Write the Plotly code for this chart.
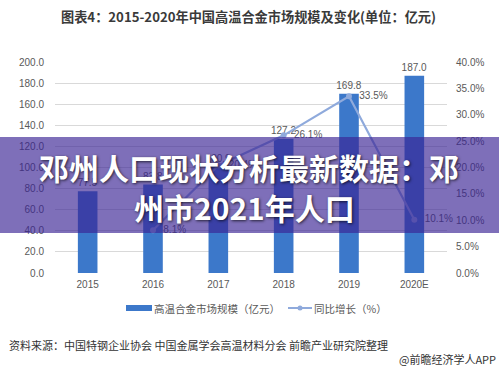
import plotly.graph_objects as go

years = ["2015", "2016", "2017", "2018", "2019", "2020E"]
market_size = [77.5, 83.8, 100.9, 127.2, 169.8, 187.0]
growth_years = ["2016", "2017", "2018", "2019", "2020E"]
growth_pct = [8.1, 20.4, 26.1, 33.5, 10.1]

title_text = "图表4：2015-2020年中国高温合金市场规模及变化(单位：亿元)"
banner_line1 = "邓州人口现状分析最新数据：邓"
banner_line2 = "州市2021年人口"
source_text = "资料来源：中国特钢企业协会 中国金属学会高温材料分会 前瞻产业研究院整理"
credit_text = "@前瞻经济学人APP"
bar_name = "高温合金市场规模（亿元）"
line_name = "同比增长（%）"

CJK = "Noto Sans CJK SC"
gray = "#595959"
bar_color = "#3C78CA"
line_color = "#8FAADC"

# pixel -> paper helpers (plot area: x 55..447, y 62..273)
def px(x):
    return (x - 55) / 392

def py(y):
    return (273 - y) / 211

fig = go.Figure()
fig.add_trace(go.Bar(
    x=years, y=market_size, name=bar_name,
    marker=dict(color=bar_color, line=dict(width=0)), width=0.3,
    text=[f"{v:.1f}" for v in market_size], textposition="outside",
    textfont=dict(size=10, color=gray, family="Liberation Sans"),
    constraintext="none", cliponaxis=False,
))
fig.add_trace(go.Scatter(
    x=growth_years, y=[g / 100 for g in growth_pct], name=line_name,
    yaxis="y2", mode="lines+markers+text",
    line=dict(color=line_color, width=2.2),
    marker=dict(size=6, color=line_color),
    text=[f"  {g:.1f}%" for g in growth_pct], textposition="middle right",
    textfont=dict(size=10, color=gray, family="Liberation Sans"),
    cliponaxis=False,
))

fig.update_layout(
    width=499, height=371,
    margin=dict(l=55, r=52, t=62, b=98),
    paper_bgcolor="white", plot_bgcolor="white",
    font=dict(family="Liberation Sans", size=10, color=gray),
    showlegend=False,
    bargap=0.7,
    xaxis=dict(type="category", showgrid=False, showline=False, zeroline=False,
               ticks="", tickfont=dict(size=10, color=gray), ticklabelstandoff=4),
    yaxis=dict(range=[0, 200], dtick=20, tickformat=".1f", showgrid=True,
               gridcolor="#D9D9D9", gridwidth=1, zeroline=False, showline=False,
               ticks="", tickfont=dict(size=10, color=gray), ticklabelstandoff=10),
    yaxis2=dict(range=[0, 0.4], dtick=0.05, tickformat=".1%", overlaying="y",
                side="right", showgrid=False, zeroline=False, showline=False,
                ticks="", tickfont=dict(size=10, color=gray), ticklabelstandoff=8),
)

# manual legend
fig.add_shape(type="rect", xref="paper", yref="paper",
              x0=px(126), x1=px(152), y0=py(311), y1=py(305),
              fillcolor=bar_color, line=dict(width=0))
fig.add_annotation(text=bar_name, xref="paper", yref="paper",
                   x=px(152), y=py(308), xanchor="left", yanchor="middle",
                   showarrow=False, font=dict(family=CJK, size=10.5, color=gray))
fig.add_shape(type="line", xref="paper", yref="paper",
              x0=px(288), x1=px(312), y0=py(308), y1=py(308),
              line=dict(color=line_color, width=2))
fig.add_shape(type="circle", xref="paper", yref="paper",
              x0=px(297.5), x1=px(302.5), y0=py(310.5), y1=py(305.5),
              fillcolor=line_color, line=dict(width=0))
fig.add_annotation(text=line_name, xref="paper", yref="paper",
                   x=px(312), y=py(308), xanchor="left", yanchor="middle",
                   showarrow=False, font=dict(family=CJK, size=10.5, color=gray))

fig.add_annotation(text=f"<b>{title_text}</b>", xref="paper", yref="paper",
                   x=px(248), y=py(17), xanchor="center", yanchor="middle",
                   showarrow=False, font=dict(family=CJK, size=13.2, color="#3a3a3a"))

fig.add_shape(type="rect", xref="paper", yref="paper",
              x0=-0.2, x1=1.2, y0=py(233), y1=py(137),
              fillcolor="rgba(57,34,148,0.65)", line=dict(width=0), layer="above")

shadow = "1px 1px 3px rgba(0,0,0,0.7)"
fig.add_annotation(text=f"<b>{banner_line1}</b>", xref="paper", yref="paper",
                   x=px(249), y=py(167), xanchor="center", yanchor="middle",
                   showarrow=False,
                   font=dict(family=CJK, size=30, color="white", shadow=shadow))
fig.add_annotation(text=f"<b>{banner_line2}</b>", xref="paper", yref="paper",
                   x=px(244), y=py(207), xanchor="center", yanchor="middle",
                   showarrow=False,
                   font=dict(family=CJK, size=30, color="white", shadow=shadow))

fig.add_annotation(text=source_text, xref="paper", yref="paper",
                   x=px(7), y=py(345), xanchor="left", yanchor="middle",
                   showarrow=False, font=dict(family=CJK, size=11, color="#333333"))
fig.add_annotation(text=credit_text, xref="paper", yref="paper",
                   x=px(498), y=py(359), xanchor="right", yanchor="middle",
                   showarrow=False, font=dict(family=CJK, size=11, color="#333333"))

fig.write_html("out.html", config={"displayModeBar": False},
               post_script="document.body.style.margin='0';")
